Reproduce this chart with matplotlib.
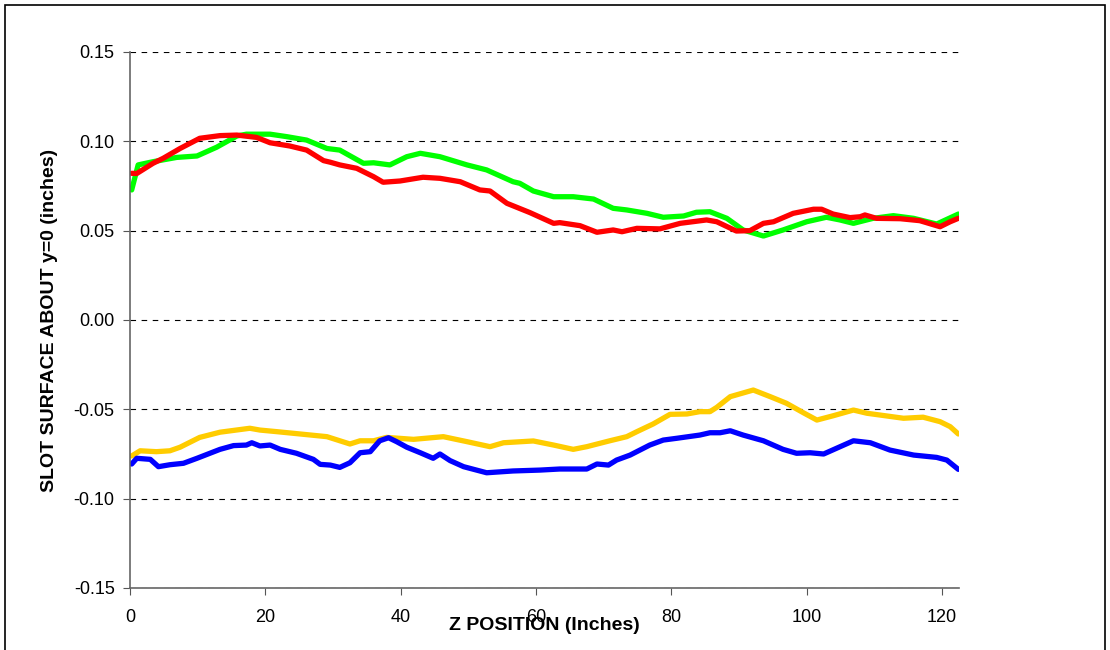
import numpy as np
import matplotlib
matplotlib.use('Agg')
from matplotlib import pyplot as plt
from matplotlib.patches import Rectangle

plt.rcParams['font.family'] = ['Liberation Sans', 'DejaVu Sans']

# green trace
green_z = [0.25, 1.2, 3.4, 6.9, 9.9, 12.8, 15.8, 17.2, 20.7, 23.2, 26.1, 29.1, 31.0, 34.5, 36.0,
           38.4, 40.9, 42.9, 45.8, 49.8, 52.7, 56.6, 57.6, 59.6, 62.6, 65.5, 68.5, 71.4, 73.4,
           76.4, 78.8, 81.8, 83.7, 85.7, 88.2, 90.6, 93.6, 96.5, 100.0, 102.9, 104.9, 106.9,
           109.8, 112.8, 115.8, 119.2, 122.4]
green_y = [0.0728, 0.0868, 0.0886, 0.091, 0.0918, 0.0967, 0.103, 0.104, 0.104, 0.1026, 0.1007,
           0.096, 0.0951, 0.0877, 0.088, 0.0868, 0.0914, 0.0933, 0.0914, 0.0868, 0.084, 0.0774,
           0.0765, 0.0722, 0.069, 0.069, 0.0677, 0.0625, 0.0616, 0.0597, 0.0575, 0.0582, 0.0603,
           0.0606, 0.0569, 0.0504, 0.047, 0.0504, 0.055, 0.0575, 0.056, 0.0541, 0.0569, 0.0584,
           0.0569, 0.0537, 0.0593]

# red trace
red_z = [0.25, 1.0, 3.4, 4.9, 7.4, 10.3, 13.3, 15.8, 18.7, 20.7, 23.6, 26.1, 28.6, 29.6, 31.0,
         33.5, 36.0, 37.4, 39.9, 43.3, 45.8, 48.8, 51.7, 53.2, 55.7, 59.1, 62.6, 63.5, 66.5,
         69.0, 71.4, 72.7, 74.9, 78.3, 81.3, 85.2, 86.7, 89.6, 91.6, 93.6, 95.1, 98.0, 101.0,
         102.2, 103.9, 106.4, 107.9, 108.6, 110.3, 113.8, 116.7, 119.7, 121.2, 122.4]
red_y = [0.0821, 0.082, 0.0877, 0.0905, 0.096, 0.1017, 0.1032, 0.1035, 0.1022, 0.0992, 0.0974,
         0.0951, 0.0892, 0.0883, 0.0868, 0.0849, 0.0802, 0.0771, 0.0778, 0.0799, 0.0793, 0.0774,
         0.0728, 0.0722, 0.0653, 0.0601, 0.0541, 0.0545, 0.0528, 0.0491, 0.0504, 0.0494, 0.0513,
         0.051, 0.0541, 0.056, 0.055, 0.0498, 0.05, 0.0541, 0.055, 0.0597, 0.062, 0.062, 0.0593,
         0.0573, 0.0578, 0.0588, 0.0569, 0.0567, 0.0556, 0.0522, 0.055, 0.0569]

# yellow trace
yellow_z = [0.25, 1.5, 3.9, 5.9, 7.4, 10.3, 13.3, 17.7, 19.2, 21.7, 24.1, 29.1, 32.5, 34.0, 36.0,
            37.9, 41.9, 46.3, 49.8, 53.2, 55.2, 59.6, 62.6, 65.5, 67.5, 70.9, 73.4, 74.9, 77.3,
            79.8, 82.3, 84.2, 85.7, 86.7, 88.7, 92.1, 94.6, 97.0, 99.5, 101.5, 103.9, 106.9,
            108.9, 111.8, 114.3, 117.2, 119.7, 121.2, 122.4]
yellow_y = [-0.0761, -0.0732, -0.0737, -0.0732, -0.0712, -0.0657, -0.0628, -0.0606, -0.0616,
            -0.0625, -0.0634, -0.0653, -0.0694, -0.0676, -0.0676, -0.0657, -0.0668, -0.0653,
            -0.0681, -0.0709, -0.0687, -0.0677, -0.07, -0.0724, -0.0709, -0.0676, -0.0653,
            -0.0625, -0.0582, -0.0528, -0.0526, -0.0513, -0.0513, -0.0489, -0.0429, -0.0392,
            -0.0429, -0.0466, -0.0519, -0.056, -0.0536, -0.0504, -0.0522, -0.0537, -0.055,
            -0.0544, -0.0569, -0.0597, -0.0638]

# blue trace
blue_z = [0.25, 1.0, 3.0, 4.2, 5.9, 7.9, 9.9, 13.3, 15.3, 17.2, 18.0, 19.2, 20.7, 22.2, 24.6,
          27.1, 28.1, 29.6, 31.0, 32.5, 34.0, 35.5, 36.9, 38.2, 39.4, 40.9, 42.9, 44.8, 45.8,
          47.3, 49.3, 52.7, 56.6, 60.6, 63.5, 67.5, 69.0, 70.7, 71.9, 73.9, 76.8, 78.8, 80.8,
          84.2, 85.7, 87.2, 88.7, 90.6, 93.6, 96.5, 98.5, 100.5, 102.5, 104.4, 106.9, 109.4,
          112.3, 115.8, 119.2, 120.7, 122.4]
blue_y = [-0.0806, -0.0774, -0.078, -0.0821, -0.081, -0.0802, -0.0774, -0.0724, -0.0703, -0.07,
          -0.0687, -0.0705, -0.07, -0.0724, -0.0746, -0.078, -0.0808, -0.0812, -0.0825, -0.0799,
          -0.0743, -0.0737, -0.0676, -0.0659, -0.0681, -0.0712, -0.0743, -0.0774, -0.075,
          -0.0787, -0.0821, -0.0855, -0.0845, -0.084, -0.0834, -0.0834, -0.0806, -0.0812,
          -0.0784, -0.0756, -0.07, -0.0672, -0.0662, -0.0644, -0.0631, -0.0631, -0.062, -0.0644,
          -0.0676, -0.0724, -0.0746, -0.0743, -0.075, -0.0718, -0.0676, -0.0687, -0.0728,
          -0.0756, -0.0769, -0.0784, -0.0836]

x_ticks = [0, 20, 40, 60, 80, 100, 120]
y_ticks = [-0.15, -0.10, -0.05, 0.00, 0.05, 0.10, 0.15]

fig = plt.figure(figsize=(11.1, 6.5), dpi=100)
ax = fig.add_axes([130 / 1110, 62 / 650, 829 / 1110, 536 / 650])

lw = 3.8
ax.plot(yellow_z, yellow_y, color='#FFCC00', lw=lw, solid_joinstyle='round', solid_capstyle='round')
ax.plot(green_z, green_y, color='#00FF00', lw=lw, solid_joinstyle='round', solid_capstyle='round')
ax.plot(blue_z, blue_y, color='#0000FF', lw=lw, solid_joinstyle='round', solid_capstyle='round')
ax.plot(red_z, red_y, color='#FF0000', lw=lw, solid_joinstyle='round', solid_capstyle='round')

ax.set_xlim(0, 122.5)
ax.set_ylim(-0.15, 0.15)
ax.set_xticks(x_ticks)
ax.set_yticks(y_ticks)
ax.set_yticklabels(['%.2f' % v for v in y_ticks])
ax.tick_params(direction='out', length=5, labelsize=13, color='#555555')
ax.tick_params(axis='x', pad=10)
ax.tick_params(axis='y', pad=6)
ax.yaxis.grid(True, linestyle=(0, (5, 5)), color='black', linewidth=0.8)
ax.set_axisbelow(True)
for s in ['top', 'right']:
    ax.spines[s].set_visible(False)
for s in ['left', 'bottom']:
    ax.spines[s].set_color('#666666')
    ax.spines[s].set_linewidth(1.2)

ax.set_xlabel('Z POSITION (Inches)', fontsize=14, fontweight='bold', labelpad=-6)
ax.set_ylabel('SLOT SURFACE ABOUT y=0 (inches)', fontsize=14, fontweight='bold', labelpad=11)

fig.patches.append(Rectangle((5 / 1110, -0.05), 1100 / 1110, 1.05 - 5 / 650,
                             transform=fig.transFigure, fill=False, edgecolor='black',
                             linewidth=1.2))

fig.savefig('out.png', dpi=100)
